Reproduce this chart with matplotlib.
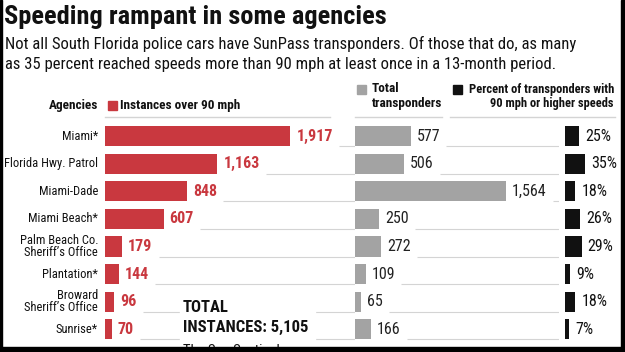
import matplotlib
matplotlib.use("Agg")
import matplotlib.pyplot as plt
from matplotlib.patches import Rectangle
from matplotlib.lines import Line2D

# data
agencies = ["Miami*", "Florida Hwy. Patrol", "Miami-Dade", "Miami Beach*",
            "Palm Beach Co.\nSheriff\u2019s Office", "Plantation*",
            "Broward\nSheriff\u2019s Office", "Sunrise*"]
instances = [1917, 1163, 848, 607, 179, 144, 96, 70]
transponders = [577, 506, 1564, 250, 272, 109, 65, 166]
percent_fast = [25, 35, 18, 26, 29, 9, 18, 7]
total_instances = 5105

plt.rcParams["font.family"] = ["Roboto Condensed", "Roboto", "DejaVu Sans"]

RED = "#c9383f"
GRAY = "#a3a3a3"
BLACK = "#111111"
LINE = "#d4d4d4"

W, H = 625, 352
fig = plt.figure(figsize=(W / 100, H / 100), dpi=100)


def fx(px):
    return px / W


def fy(py):
    return 1 - py / H


# title and subtitle
fig.text(fx(4), fy(17), "Speeding rampant in some agencies", fontsize=19,
         fontweight="bold", va="center", ha="left", color="#111")
fig.text(fx(5), fy(44), "Not all South Florida police cars have SunPass transponders. "
         "Of those that do, as many", fontsize=12, va="center", color="#111")
fig.text(fx(5), fy(64), "as 35 percent reached speeds more than 90 mph at least once "
         "in a 13-month period.", fontsize=12, va="center", color="#111")

# headers
hdr = dict(fontsize=9.5, fontweight="bold", va="center", color="#111")
fig.text(fx(98), fy(105), "Agencies", ha="right", **hdr)
fig.add_artist(Rectangle((fx(108), fy(110)), fx(9), 9 / H, color=RED, transform=fig.transFigure))
fig.text(fx(120), fy(105), "Instances over 90 mph", **hdr)
fig.add_artist(Rectangle((fx(357), fy(94)), fx(9), 9 / H, color=GRAY, transform=fig.transFigure))
fig.text(fx(372), fy(89), "Total", **hdr)
fig.text(fx(372), fy(104), "transponders", **hdr)
fig.add_artist(Rectangle((fx(453), fy(94)), fx(9), 9 / H, color=BLACK, transform=fig.transFigure))
hdr_r = dict(hdr, fontsize=9.0)
fig.text(fx(614), fy(89), "Percent of transponders with", ha="right", **hdr_r)
fig.text(fx(614), fy(104), "90 mph or higher speeds", ha="right", **hdr_r)
for x0, x1 in [(105, 330), (355, 442), (450, 615)]:
    fig.add_artist(Line2D([fx(x0), fx(x1)], [fy(117), fy(117)], color=LINE, lw=1))

# axes for the three columns
top, bottom = 122.5, 343.0
n = len(agencies)
bar_h = 0.73
scale = 0.0967  # px per unit, shared by red and gray columns
cols = [
    (105, 355, instances, RED, "bold", lambda v: f"{v:,}", RED, scale, True),
    (355, 559, transponders, GRAY, "normal", lambda v: f"{v:,}", "#222", scale, True),
    (565, 615, percent_fast, BLACK, "normal", lambda v: f"{v}%", "#111", 0.575, False),
]
axes = []
labels = []
for x0, x1, vals, color, weight, fmt, tcolor, s, lines in cols:
    ax = fig.add_axes([fx(x0), fy(bottom), (x1 - x0) / W, (bottom - top) / H])
    ax.set_xlim(0, (x1 - x0) / s)
    ax.set_ylim(n - 0.5, -0.5)
    ax.axis("off")
    ax.barh(range(n), vals, height=bar_h, color=color)
    lab = []
    for i, v in enumerate(vals):
        t = ax.annotate(fmt(v), (v, i), xytext=(6, 0), textcoords="offset pixels",
                        fontsize=11.5, fontweight=weight, color=tcolor,
                        va="center", ha="left", annotation_clip=False)
        lab.append(t)
    axes.append((ax, vals, lines))
    labels.append(lab)

# agency names
ax0 = axes[0][0]
for i, name in enumerate(agencies):
    ax0.annotate(name, (0, i), xycoords=ax0.get_yaxis_transform(), xytext=(-7, 0),
                 textcoords="offset pixels", ha="right", va="center", fontsize=9,
                 linespacing=0.95, color="#111", annotation_clip=False)

# total annotation
fig.text(fx(183), fy(307), "TOTAL", fontsize=12, fontweight="bold", va="center",
         color="#111", zorder=5)
fig.text(fx(183), fy(327), f"INSTANCES: {total_instances:,}", fontsize=12,
         fontweight="bold", va="center", color="#111", zorder=5)
fig.text(fx(183), fy(351), "The Sun Sentinel", fontsize=10.5, va="center",
         color="#111", zorder=5)

# separator lines after each label
fig.canvas.draw()
r = fig.canvas.get_renderer()
for (ax, vals, lines), lab in zip(axes, labels):
    if not lines:
        continue
    inv = ax.transData.inverted()
    for i, t in enumerate(lab):
        bb = t.get_window_extent(r)
        xs = inv.transform((bb.x1 + 6, 0))[0]
        ax.hlines(i + bar_h / 2, xs, ax.get_xlim()[1], color=LINE, lw=0.8, zorder=0)

# keep separators clear of the TOTAL block
fig.add_artist(Rectangle((fx(180), fy(347)), fx(135), 52 / H, color="white",
                         transform=fig.transFigure, zorder=4))

# black frame
for x, y, w, h in [(0, 0, 2, H), (621, 0, 4, H), (0, 347, W, 5)]:
    fig.add_artist(Rectangle((fx(x), fy(y + h)), w / W, h / H, color="black",
                             transform=fig.transFigure, zorder=10))

fig.savefig("out.png", dpi=100)
